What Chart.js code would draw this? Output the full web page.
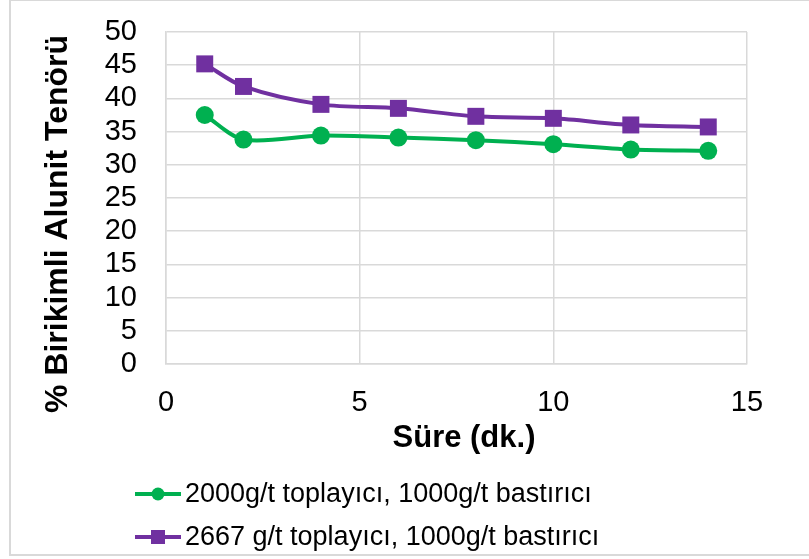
<!DOCTYPE html>
<html lang="tr">
<head>
  <meta charset="UTF-8" />
  <title>Birikimli Alunit Tenörü</title>
  <script src="https://cdn.jsdelivr.net/npm/chart.js"></script>
  <style>
    html, body { margin: 0; padding: 0; background: #fff; overflow: hidden; }
    #wrap { position: relative; width: 809px; height: 559px; }
    #frame { position: absolute; left: 9px; top: -1px; width: 900px; height: 557px; border: 2px solid #d9d9d9; box-sizing: border-box; pointer-events: none; }
  </style>
</head>
<body>
  <div id="wrap">
    <canvas id="tenorChart" width="809" height="559"></canvas>
    <div id="frame"></div>
  </div>

  <script>
    // Süre (dk.)
    const sure = [1, 2, 4, 6, 8, 10, 12, 14];
    // % birikimli alunit tenörü
    const tenor2000 = [37.5, 33.8, 34.4, 34.1, 33.7, 33.1, 32.3, 32.1];
    const tenor2667 = [45.2, 41.8, 39.1, 38.5, 37.3, 37.0, 36.0, 35.7];

    const seriesLabels = [
      '2000g/t toplayıcı, 1000g/t bastırıcı',
      '2667 g/t toplayıcı, 1000g/t bastırıcı'
    ];
    const xTitle = 'Süre (dk.)';
    const yTitle = '% Birikimli Alunit Tenörü';

    const FONT = "'Liberation Sans', Arial, sans-serif";
    const GRID = '#d9d9d9';

    // Achsentitel und Legende selbst zeichnen
    const extras = {
      id: 'extras',
      afterDraw(chart) {
        const c = chart.ctx;
        c.save();
        c.fillStyle = '#000';
        c.font = 'bold 31px ' + FONT;
        c.textAlign = 'center';
        c.textBaseline = 'alphabetic';
        c.fillText(xTitle, 464, 447);

        c.translate(67, 224);
        c.rotate(-Math.PI / 2);
        c.font = 'bold 32px ' + FONT;
        c.fillText(yTitle, 0, 0);
        c.restore();

        // Legende
        const rows = [494, 537];
        chart.data.datasets.forEach((ds, i) => {
          const y = rows[i];
          c.save();
          c.strokeStyle = ds.borderColor;
          c.lineWidth = 4;
          c.beginPath();
          c.moveTo(135, y);
          c.lineTo(181, y);
          c.stroke();
          c.fillStyle = ds.borderColor;
          if (ds.pointStyle === 'rect') {
            c.fillRect(158 - 7, y - 7, 14, 14);
          } else {
            c.beginPath();
            c.arc(158, y, 6.5, 0, Math.PI * 2);
            c.fill();
          }
          c.fillStyle = '#000';
          c.font = '27px ' + FONT;
          c.textAlign = 'left';
          c.textBaseline = 'middle';
          c.fillText(ds.label, 185, y + 1);
          c.restore();
        });
      }
    };

    const ctx = document.getElementById('tenorChart').getContext('2d');

    new Chart(ctx, {
      type: 'line',
      data: {
        labels: sure,
        datasets: [
          {
            label: seriesLabels[0],
            data: sure.map((x, i) => ({ x: x, y: tenor2000[i] })),
            borderColor: '#00b050',
            backgroundColor: '#00b050',
            borderWidth: 4,
            pointStyle: 'circle',
            pointRadius: 9,
            pointBorderWidth: 0,
            tension: 0.3,
            fill: false
          },
          {
            label: seriesLabels[1],
            data: sure.map((x, i) => ({ x: x, y: tenor2667[i] })),
            borderColor: '#7030a0',
            backgroundColor: '#7030a0',
            borderWidth: 4,
            pointStyle: 'rect',
            pointRadius: 12,
            pointBorderWidth: 0,
            tension: 0.3,
            fill: false
          }
        ]
      },
      options: {
        responsive: false,
        animation: false,
        layout: { padding: { left: 0, right: 62, top: 32, bottom: 0 } },
        plugins: {
          legend: { display: false },
          tooltip: { enabled: false }
        },
        scales: {
          x: {
            type: 'linear',
            min: 0,
            max: 15,
            ticks: { stepSize: 5, padding: 22, color: '#000', font: { family: FONT, size: 29 } },
            grid: { color: GRID, lineWidth: 1.5, drawTicks: false },
            border: { color: GRID, width: 1.5 },
            afterFit(scale) { scale.height = 195; }
          },
          y: {
            min: 0,
            max: 50,
            ticks: { stepSize: 5, autoSkip: false, padding: 29, color: '#000', font: { family: FONT, size: 29 } },
            grid: { color: GRID, lineWidth: 1.5, drawTicks: false },
            border: { color: GRID, width: 1.5 },
            afterFit(scale) {
              scale.width = 166;
              // tick padding should not push the plot area down
              scale.paddingTop = 0;
              scale.paddingBottom = 0;
            }
          }
        }
      },
      plugins: [extras]
    });
  </script>
</body>
</html>
